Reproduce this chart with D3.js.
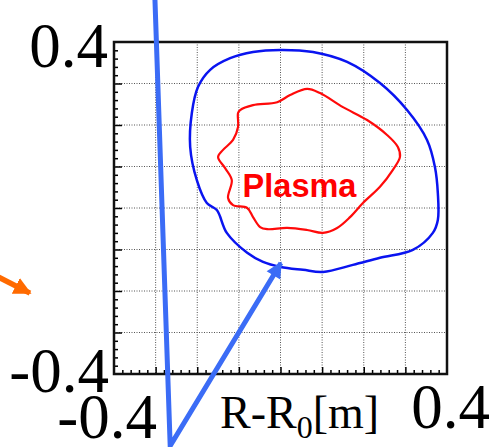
<!DOCTYPE html>
<head>
    <meta charset="utf-8">
    <style>
    body{
        margin: 0;
        background-color: white;
    }
    svg {
        background-color: white;
    }
    .tickLabel {
        font-family: 'Liberation Serif', 'Times New Roman', serif;
        font-size: 63px;
        fill: #000;
    }
    .axisLabel {
        font-family: 'Liberation Serif', 'Times New Roman', serif;
        font-size: 46px;
        fill: #000;
    }
    .plasma {
        font-family: 'Liberation Sans', Arial, sans-serif;
        font-weight: bold;
        font-size: 32.5px;
        fill: #ff0000;
    }
    .grid line {
        stroke: #555;
        stroke-width: 1;
        stroke-dasharray: 1,1.5;
    }
    .ticks line {
        stroke: #000;
        stroke-width: 1.5;
    }
    </style>
</head>

<body>
<script src="https://d3js.org/d3.v7.min.js"></script>
<script type="text/javascript">

// DATA
const domain = [-0.4, 0.4];
const tickLabels = ['0.4', '-0.4', '-0.4', '0.4'];
const gridValues = [-0.3, -0.2, -0.1, 0.0, 0.1, 0.2, 0.3];
const minorValues = d3.range(-19, 20).map(i => i * 0.02);

// outer (blue) boundary, R-R0 / Z in metres
const outerX = [0.000, 0.078, 0.160, 0.239, 0.304, 0.352, 0.371, 0.378, 0.378, 0.366, 0.318, 0.239, 0.174, 0.102, 0.054, 0.000, -0.042, -0.080, -0.129, -0.153, -0.177, -0.201, -0.217, -0.213, -0.198, -0.169, -0.121, -0.066];
const outerY = [0.381, 0.376, 0.352, 0.301, 0.236, 0.164, 0.099, 0.036, -0.029, -0.060, -0.101, -0.120, -0.137, -0.154, -0.149, -0.142, -0.130, -0.108, -0.060, -0.005, 0.012, 0.067, 0.147, 0.229, 0.292, 0.333, 0.361, 0.376];

// plasma (red) boundary
const plasmaX = [-0.097, -0.066, -0.008, 0.023, 0.064, 0.095, 0.150, 0.208, 0.256, 0.282, 0.287, 0.270, 0.239, 0.198, 0.167, 0.136, 0.102, 0.064, 0.016, -0.032, -0.049, -0.066, -0.080, -0.114, -0.126, -0.117, -0.133, -0.150, -0.138, -0.114, -0.102, -0.102];
const plasmaY = [0.236, 0.248, 0.255, 0.272, 0.287, 0.277, 0.243, 0.212, 0.176, 0.147, 0.123, 0.092, 0.051, 0.012, -0.022, -0.048, -0.060, -0.053, -0.048, -0.051, -0.046, -0.022, 0.000, 0.007, 0.024, 0.067, 0.096, 0.123, 0.140, 0.164, 0.195, 0.229];

// beam line (light blue) and orange arrow
const beamX = [-0.302, -0.265, 0.001];
const beamY = [0.513, -0.573, -0.1325];
const orangeX = [-0.690, -0.602];
const orangeY = [-0.160, -0.205];

// DIMENSIONS
const width = 498, height = 447;
const margin = {top: 42, right: 51, bottom: 73, left: 114};

const svg = d3.select('body')
    .append('svg')
    .attr('width', width)
    .attr('height', height);

// SCALES
const xScale = d3.scaleLinear(domain, [margin.left, width - margin.right]);
const yScale = d3.scaleLinear(domain, [height - margin.bottom, margin.top]);

// GRID
const grid = svg.append('g').attr('class', 'grid');

grid.selectAll('line.v')
    .data(gridValues)
    .join('line')
    .attr('class', 'v')
    .attr('x1', d => xScale(d)).attr('x2', d => xScale(d))
    .attr('y1', yScale(0.4)).attr('y2', yScale(-0.4));

grid.selectAll('line.h')
    .data(gridValues)
    .join('line')
    .attr('class', 'h')
    .attr('x1', xScale(-0.4)).attr('x2', xScale(0.4))
    .attr('y1', d => yScale(d)).attr('y2', d => yScale(d));

// AXES (ticks pointing inside)
const minorOnly = minorValues.filter(v => !gridValues.some(g => Math.abs(g - v) < 1e-6));

const yMinor = d3.axisLeft(yScale).tickValues(minorOnly).tickSize(-4).tickFormat('');
const yMajor = d3.axisLeft(yScale).tickValues(gridValues).tickSize(-8).tickFormat('');
const xMinor = d3.axisBottom(xScale).tickValues(minorOnly).tickSize(-4).tickFormat('');
const xMajor = d3.axisBottom(xScale).tickValues(gridValues).tickSize(-7).tickFormat('');

[yMinor, yMajor].forEach(ax => {
    svg.append('g')
        .attr('class', 'ticks')
        .attr('transform', `translate(${xScale(-0.4)},0)`)
        .call(ax)
        .call(g => g.select('.domain').remove());
});
[xMinor, xMajor].forEach(ax => {
    svg.append('g')
        .attr('class', 'ticks')
        .attr('transform', `translate(0,${yScale(-0.4)})`)
        .call(ax)
        .call(g => g.select('.domain').remove());
});

// FRAME
svg.append('rect')
    .attr('x', xScale(-0.4))
    .attr('y', yScale(0.4))
    .attr('width', xScale(0.4) - xScale(-0.4))
    .attr('height', yScale(-0.4) - yScale(0.4))
    .attr('fill', 'none')
    .attr('stroke', '#111')
    .attr('stroke-width', 2.5);

// CONTOURS
const line = d3.line()
    .x(d => xScale(d[0]))
    .y(d => yScale(d[1]))
    .curve(d3.curveCatmullRomClosed);

svg.append('path')
    .datum(d3.zip(outerX, outerY))
    .attr('d', line)
    .attr('fill', 'none')
    .attr('stroke', '#0a14f0')
    .attr('stroke-width', 2.5);

svg.append('path')
    .datum(d3.zip(plasmaX, plasmaY))
    .attr('d', line)
    .attr('fill', 'none')
    .attr('stroke', '#ff0a0a')
    .attr('stroke-width', 2.2);

// PLASMA LABEL
svg.append('text')
    .attr('x', xScale(-0.091))
    .attr('y', yScale(0.0255))
    .attr('class', 'plasma')
    .text('Plasma');

// ARROWS
const defs = svg.append('defs');
defs.append('marker')
    .attr('id', 'headBlue')
    .attr('viewBox', '0 0 10 10')
    .attr('refX', 9).attr('refY', 5)
    .attr('markerWidth', 3.4).attr('markerHeight', 3.2)
    .attr('markerUnits', 'strokeWidth')
    .attr('orient', 'auto')
    .append('path')
    .attr('d', 'M0,0 L10,5 L0,10 Z')
    .attr('fill', '#3b6cf6');

defs.append('marker')
    .attr('id', 'headOrange')
    .attr('viewBox', '0 0 10 10')
    .attr('refX', 9).attr('refY', 5)
    .attr('markerWidth', 3.2).attr('markerHeight', 3.2)
    .attr('markerUnits', 'strokeWidth')
    .attr('orient', 'auto')
    .append('path')
    .attr('d', 'M0,0 L10,5 L0,10 Z')
    .attr('fill', '#ff6a00');

const straight = d3.line()
    .x(d => xScale(d[0]))
    .y(d => yScale(d[1]));

svg.append('path')
    .datum(d3.zip(beamX, beamY))
    .attr('d', straight)
    .attr('fill', 'none')
    .attr('stroke', '#3b6cf6')
    .attr('stroke-width', 5)
    .attr('stroke-linejoin', 'miter')
    .attr('marker-end', 'url(#headBlue)');

svg.append('path')
    .datum(d3.zip(orangeX, orangeY))
    .attr('d', straight)
    .attr('fill', 'none')
    .attr('stroke', '#ff6a00')
    .attr('stroke-width', 5.5)
    .attr('marker-end', 'url(#headOrange)');

// TICK LABELS
svg.append('text')
    .attr('class', 'tickLabel')
    .attr('text-anchor', 'end')
    .attr('x', xScale(-0.4) - 6)
    .attr('y', yScale(0.4) + 25)
    .text(tickLabels[0]);

svg.append('text')
    .attr('class', 'tickLabel')
    .attr('text-anchor', 'end')
    .attr('x', xScale(-0.4) - 5)
    .attr('y', yScale(-0.4) + 18)
    .text(tickLabels[1]);

svg.append('text')
    .attr('class', 'tickLabel')
    .attr('text-anchor', 'end')
    .attr('x', xScale(-0.4) + 43)
    .attr('y', yScale(-0.4) + 64)
    .text(tickLabels[2]);

svg.append('text')
    .attr('class', 'tickLabel')
    .attr('text-anchor', 'end')
    .attr('x', xScale(0.4) + 43)
    .attr('y', yScale(-0.4) + 54)
    .text(tickLabels[3]);

// AXIS LABEL
const xLabel = svg.append('text')
    .attr('class', 'axisLabel')
    .attr('x', 220)
    .attr('y', yScale(-0.4) + 54);
xLabel.append('tspan').text('R-R');
xLabel.append('tspan').attr('dy', 10).attr('font-size', '32px').text('0');
xLabel.append('tspan').attr('dy', -10).text('[m]');

</script>
</body>
